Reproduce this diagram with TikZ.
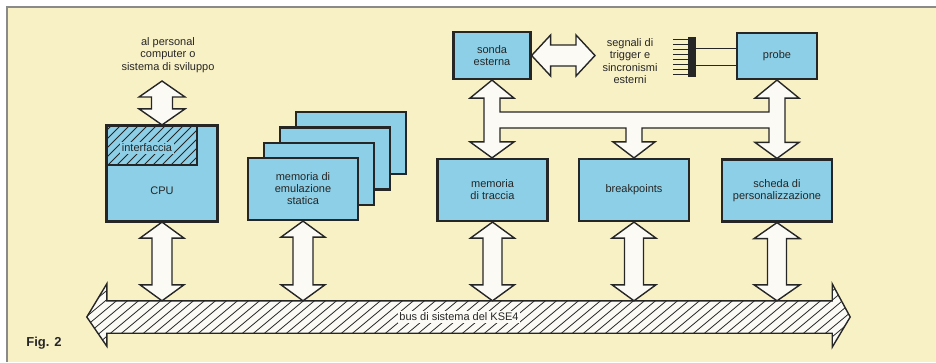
\documentclass[tikz,border=0pt]{standalone}
\usepackage{fontspec}
\setmainfont{Liberation Sans}
\usetikzlibrary{calc}

\definecolor{paper}{HTML}{F9F1C6}
\definecolor{boxblue}{HTML}{8DCFE6}
\definecolor{arrowwhite}{HTML}{FBFAF4}
\definecolor{ink}{HTML}{262626}
\definecolor{rulegray}{HTML}{8A8A8A}

% vertical double arrow: top point, bottom point, head half width, shaft half width, head length
\newcommand\updown[5]{%
  \draw[flow] let \p1=(#1), \p2=(#2) in
    (\x1,\y1) -- ({\x1+#3},{\y1-#5}) -- ({\x1+#4},{\y1-#5}) -- ({\x1+#4},{\y2+#5})
    -- ({\x1+#3},{\y2+#5}) -- (\x1,\y2) -- ({\x1-#3},{\y2+#5}) -- ({\x1-#4},{\y2+#5})
    -- ({\x1-#4},{\y1-#5}) -- ({\x1-#3},{\y1-#5}) -- cycle;}

% horizontal double arrow: left point, right point, head half height, shaft half height, head length
\newcommand\leftright[5]{%
  \draw[flow] let \p1=(#1), \p2=(#2) in
    (\x1,\y1) -- ({\x1+#5},{\y1+#3}) -- ({\x1+#5},{\y1+#4}) -- ({\x2-#5},{\y1+#4})
    -- ({\x2-#5},{\y1+#3}) -- (\x2,\y1) -- ({\x2-#5},{\y1-#3}) -- ({\x2-#5},{\y1-#4})
    -- ({\x1+#5},{\y1-#4}) -- ({\x1+#5},{\y1-#3}) -- cycle;}

% outline of the system bus
\newcommand\buspath{let \p1=(bus.north west), \p2=(bus.south east) in
  (\x1,\y1) -- (\x2,\y1) -- (\x2,{\y1+17pt}) -- ({\x2+18pt},{(\y1+\y2)/2})
  -- (\x2,{\y2-14pt}) -- (\x2,\y2) -- (\x1,\y2) -- (\x1,{\y2-13pt})
  -- ({\x1-20pt},{(\y1+\y2)/2}) -- (\x1,{\y1+17pt}) -- cycle}

\begin{document}
\begin{tikzpicture}[x=1pt,y=-1pt,
  unit/.style={draw=ink, line width=2.2pt, fill=boxblue, inner sep=0pt,
    font=\fontsize{11}{12}\selectfont, text=ink, align=center,
    minimum width=110pt, minimum height=62pt},
  txt/.style={font=\fontsize{11}{12.5}\selectfont, text=ink, align=center, inner sep=1pt},
  flow/.style={draw=ink, line width=1.4pt, fill=arrowwhite, line join=miter},
  hatchline/.style={draw=ink, line width=0.8pt}]

\useasboundingbox (0,0) rectangle (936,362);
\fill[white] (0,0) rectangle (936,362);
\fill[paper] (8,8) rectangle (936,362);
\draw[rulegray, line width=1.2pt] (7,362) -- (7,7) -- (936,7);

% ---- system bus
\node[minimum width=725pt, minimum height=32pt, inner sep=0pt] (bus) at (469.5,317) {};
\fill[arrowwhite] \buspath;
\begin{scope}
  \clip \buspath;
  \foreach \i in {0,...,80}
    \draw[hatchline] ({\i*11},352) -- ({\i*11+84},282);
\end{scope}
\draw[flow, fill=none] \buspath;
\node[txt, fill=arrowwhite, inner sep=1.5pt] (buslabel) at (459,317) {bus di sistema del KSE4};

% ---- CPU with its interface
\node[unit, minimum height=95pt] (cpu) at (162,173.5) {};
\node[minimum width=91pt, minimum height=40pt, inner sep=0pt, anchor=north west] (iface) at (cpu.north west) {};
\begin{scope}
  \clip (iface.north west) rectangle (iface.south east);
  \foreach \i in {0,...,20}
    \draw[hatchline] ({60+\i*9},168) -- ({60+\i*9+44},124);
\end{scope}
\draw[ink, line width=2.2pt] (iface.north east) -- (iface.south east) -- (iface.south west);
\draw[ink, line width=2.2pt] (cpu.north west) rectangle (cpu.south east);
\node[txt, fill=boxblue, inner sep=2pt] (ifacelabel) at (147,148) {interfaccia};
\node[txt] (cpulabel) at (162,191) {CPU};

\coordinate (pcfree) at (162,81);
\node[txt] (pclabel) at (168,55) {al personal\\computer o\\sistema di sviluppo};
\updown{pcfree}{cpu.north}{23pt}{10.5pt}{16pt}
\updown{cpu.south}{cpu.south |- bus.north}{22pt}{10pt}{16pt}

% ---- static emulation memory (stacked banks)
\node[unit] (mem4) at (351,143.1) {};
\node[unit] (mem3) at (335,158.4) {};
\node[unit] (mem2) at (319,173.7) {};
\node[unit] (mem1) at (303,189) {memoria di\\emulazione\\statica};
\updown{mem1.south}{mem1.south |- bus.north}{22pt}{10pt}{16pt}

% ---- trace, breakpoints and personality boards
\node[unit] (traccia) at (492.5,190) {memoria\\di traccia};
\node[unit] (bkpt) at (634,190) {breakpoints};
\node[unit] (scheda) at (777,190.5) {scheda di\\personalizzazione};
\updown{traccia.south}{traccia.south |- bus.north}{22pt}{9.5pt}{16pt}
\updown{bkpt.south}{bkpt.south |- bus.north}{22pt}{9.5pt}{16pt}
\updown{scheda.south}{scheda.south |- bus.north}{23pt}{9.5pt}{16pt}

% ---- external probe and probe head
\node[unit, minimum width=77pt, minimum height=47pt] (sonda) at (492,55.5) {sonda\\esterna};
\node[unit, minimum width=80pt, minimum height=46pt] (probe) at (777,56) {probe};

\coordinate (sigfree) at (595,57);
\leftright{sonda.east}{sigfree}{20.5pt}{10.5pt}{19pt}
\node[txt] (siglabel) at (630,61) {segnali di\\trigger e\\sincronismi\\esterni};

\node[fill=ink, minimum width=8pt, minimum height=40pt, inner sep=0pt] (comb) at (692,57) {};
\foreach \k in {0,...,7}
  \draw[ink, line width=1pt] ([yshift={17.5pt-\k*5pt}]comb.west) -- ++(-15pt,0);
\coordinate (w1) at ([yshift=9pt]comb.east);
\coordinate (w2) at ([yshift=-8pt]comb.east);
\draw[ink, line width=1pt] (w1) -- (w1 -| probe.west);
\draw[ink, line width=1pt] (w2) -- (w2 -| probe.west);

% ---- internal probe bus joining probe, trace memory, breakpoints and personality board
\coordinate (trib) at (634,120);
\draw[flow] let \p1=(sonda.south), \p2=(traccia.north), \p3=(probe.south),
               \p4=(scheda.north), \p5=(bkpt.north), \p6=(trib) in
  (\x1,\y1) -- ({\x1+22pt},{\y1-18pt}) -- ({\x1+8pt},{\y1-18pt}) -- ({\x1+8pt},{\y6+8pt})
  -- ({\x3-8pt},{\y6+8pt}) -- ({\x3-8pt},{\y3-18pt}) -- ({\x3-22pt},{\y3-18pt})
  -- (\x3,\y3) -- ({\x3+22pt},{\y3-18pt}) -- ({\x3+8pt},{\y3-18pt})
  -- ({\x3+8pt},{\y4+16pt}) -- ({\x3+22pt},{\y4+16pt}) -- (\x3,\y4)
  -- ({\x3-22pt},{\y4+16pt}) -- ({\x3-8pt},{\y4+16pt}) -- ({\x3-8pt},{\y6-8pt})
  -- ({\x5+8pt},{\y6-8pt}) -- ({\x5+8pt},{\y5+16pt}) -- ({\x5+21pt},{\y5+16pt})
  -- (\x5,\y5) -- ({\x5-21pt},{\y5+16pt}) -- ({\x5-8pt},{\y5+16pt})
  -- ({\x5-8pt},{\y6-8pt}) -- ({\x1+8pt},{\y6-8pt}) -- ({\x1+8pt},{\y2+16pt})
  -- ({\x1+22pt},{\y2+16pt}) -- (\x1,\y2) -- ({\x1-22pt},{\y2+16pt})
  -- ({\x1-8pt},{\y2+16pt}) -- ({\x1-8pt},{\y1-18pt}) -- ({\x1-22pt},{\y1-18pt}) -- cycle;

\node[font=\bfseries\fontsize{13}{14}\selectfont, text=ink] (fig) at (44,343) {Fig. 2};
\end{tikzpicture}
\end{document}
